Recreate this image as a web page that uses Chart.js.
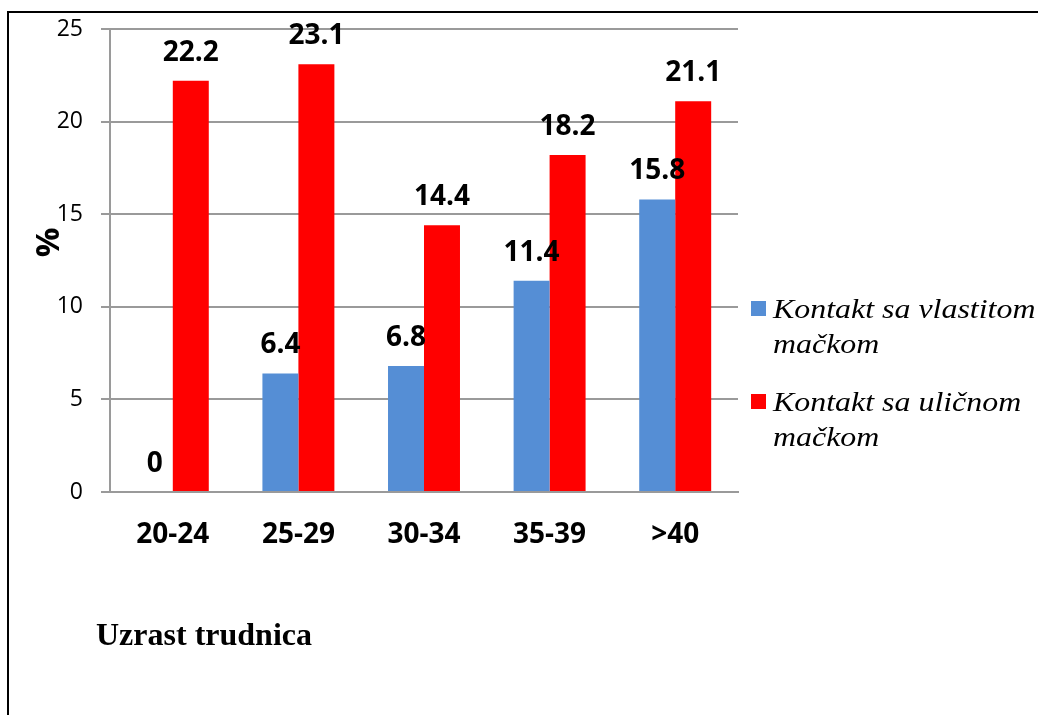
<!DOCTYPE html>
<html>
<head>
<meta charset="utf-8">
<script src="https://cdn.jsdelivr.net/npm/chart.js@4.4.1/dist/chart.umd.min.js"></script>
<style>
  html, body { margin: 0; padding: 0; background: #fff; }
  #wrap { position: relative; width: 1038px; height: 715px; overflow: hidden; }
  #frame { position: absolute; left: 7px; top: 11px; width: 1100px; height: 800px;
           border-left: 2px solid #000; border-top: 2px solid #000; pointer-events: none; }
  #c { position: absolute; left: 0; top: 0; }
</style>
</head>
<body>
<div id="wrap">
  <div id="frame"></div>
  <canvas id="c" width="1038" height="715"></canvas>
</div>
<script>
// Age groups of the pregnant women
const categories = ['20-24', '25-29', '30-34', '35-39', '>40'];
// Share (%) with contact to their own cat
const ownCat = [0, 6.4, 6.8, 11.4, 15.8];
// Share (%) with contact to a stray cat
const strayCat = [22.2, 23.1, 14.4, 18.2, 21.1];
const seriesNames = [
  ['Kontakt sa vlastitom', 'mačkom'],
  ['Kontakt sa uličnom', 'mačkom']
];
const yTicks = [0, 5, 10, 15, 20, 25];
const yTitle = '%';
const xTitle = 'Uzrast trudnica';

const GRID = '#9a9a9a';

// Bold value above each bar, taken from the bar's own value
const valueLabels = {
  id: 'valueLabels',
  afterDatasetsDraw(chart) {
    const ctx = chart.ctx;
    ctx.save();
    ctx.font = 'bold 28px "Open Sans"';
    ctx.fillStyle = '#000';
    ctx.textAlign = 'center';
    ctx.textBaseline = 'alphabetic';
    chart.data.datasets.forEach((ds, i) => {
      chart.getDatasetMeta(i).data.forEach((bar, j) => {
        ctx.fillText(String(ds.data[j]), bar.x, bar.y - 20);
      });
    });
    ctx.restore();
  }
};

// Axis captions and the two-line legend on the right
const captions = {
  id: 'captions',
  afterDraw(chart) {
    const ctx = chart.ctx;
    const area = chart.chartArea;
    ctx.save();

    // "%" rotated beside the value axis
    ctx.font = 'bold 33px "Open Sans"';
    ctx.fillStyle = '#000';
    ctx.textAlign = 'center';
    ctx.textBaseline = 'middle';
    ctx.translate(area.left - 60, (area.top + area.bottom) / 2 - 18);
    ctx.rotate(-Math.PI / 2);
    ctx.fillText(yTitle, 0, 0);
    ctx.setTransform(1, 0, 0, 1, 0, 0);

    // category axis caption
    ctx.font = 'bold 32px "Liberation Serif"';
    ctx.textAlign = 'left';
    ctx.textBaseline = 'alphabetic';
    ctx.fillText(xTitle, area.left - 14, area.bottom + 153);

    // legend: colour square plus two lines of italic text per series
    const boxX = area.right + 13;
    const textX = area.right + 35;
    let base = area.top + 289;
    chart.data.datasets.forEach((ds, i) => {
      ctx.fillStyle = ds.backgroundColor;
      ctx.fillRect(boxX, base - 17, 15, 15);
      ctx.fillStyle = '#000';
      seriesNames[i].forEach((line, k) => {
        ctx.save();
        ctx.translate(textX, base + k * 35);
        ctx.scale(1.14, 1);
        ctx.font = 'italic 28px "Liberation Serif"';
        ctx.fillText(line, 0, 0);
        ctx.restore();
      });
      base += 93;
    });
    ctx.restore();
  }
};

new Chart(document.getElementById('c'), {
  type: 'bar',
  data: {
    labels: categories,
    datasets: [
      { label: seriesNames[0].join(' '), data: ownCat, backgroundColor: '#558ED5',
        categoryPercentage: 0.573, barPercentage: 1.0 },
      { label: seriesNames[1].join(' '), data: strayCat, backgroundColor: '#FF0000',
        categoryPercentage: 0.573, barPercentage: 1.0 }
    ]
  },
  options: {
    responsive: false,
    devicePixelRatio: 1,
    animation: false,
    layout: { padding: { left: 20, top: 29, right: 300, bottom: 163 } },
    plugins: {
      legend: { display: false },
      tooltip: { enabled: false }
    },
    scales: {
      x: {
        grid: { display: false, drawTicks: false },
        border: { display: true, color: GRID, width: 2 },
        ticks: { font: { family: 'Open Sans', size: 28, weight: 'bold' }, color: '#000', padding: 26 },
        afterFit(scale) { scale.height = 60; }
      },
      y: {
        min: 0,
        max: 25,
        afterBuildTicks(scale) { scale.ticks = yTicks.map(v => ({ value: v })); },
        grid: { color: GRID, lineWidth: 2, tickLength: 9 },
        border: { display: true, color: GRID, width: 2 },
        ticks: { font: { family: 'Open Sans', size: 23, lineHeight: 0.5 }, color: '#000', padding: 18 },
        afterFit(scale) { scale.width = 90; }
      }
    }
  },
  plugins: [valueLabels, captions]
});
</script>
</body>
</html>
